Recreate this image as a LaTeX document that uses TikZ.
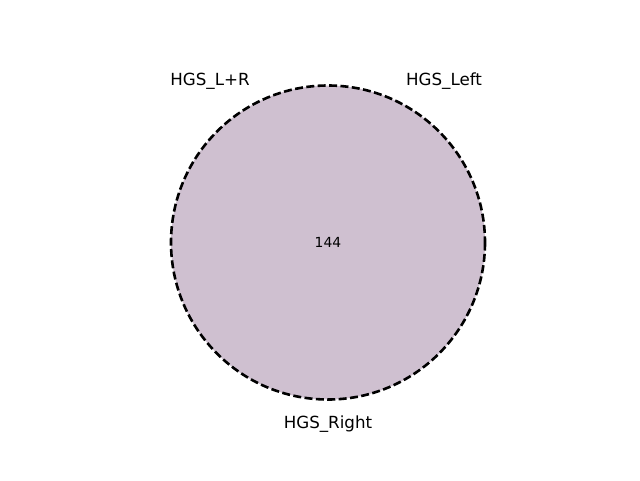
\documentclass[tikz,border=0pt]{standalone}
\usepackage{fontspec}
\setmainfont{DejaVu Sans}
\definecolor{fillc}{HTML}{CFC0D0}
\tikzset{
  setcircle/.style={draw=black, line width=2.6pt, dash pattern=on 8pt off 3.4pt},
  setlabel/.style={font=\fontsize{16.7}{20}\selectfont, inner sep=0pt},
  countlabel/.style={font=\fontsize{13.9}{16}\selectfont, inner sep=0pt}
}
\begin{document}
\begin{tikzpicture}[x=1pt,y=-1pt]
\useasboundingbox (0,0) rectangle (640,480);
\coordinate (c) at (328,242.5);
\fill[fillc] (c) circle (157);
\draw[setcircle] (c) circle (157);
\node[countlabel] (n144) at (328,242) {144};
\node[setlabel] (lr) at (210,81.5) {HGS\_L+R};
\node[setlabel] (left) at (444,81.5) {HGS\_Left};
\node[setlabel] (right) at (328,424.5) {HGS\_Right};
\end{tikzpicture}
\end{document}
